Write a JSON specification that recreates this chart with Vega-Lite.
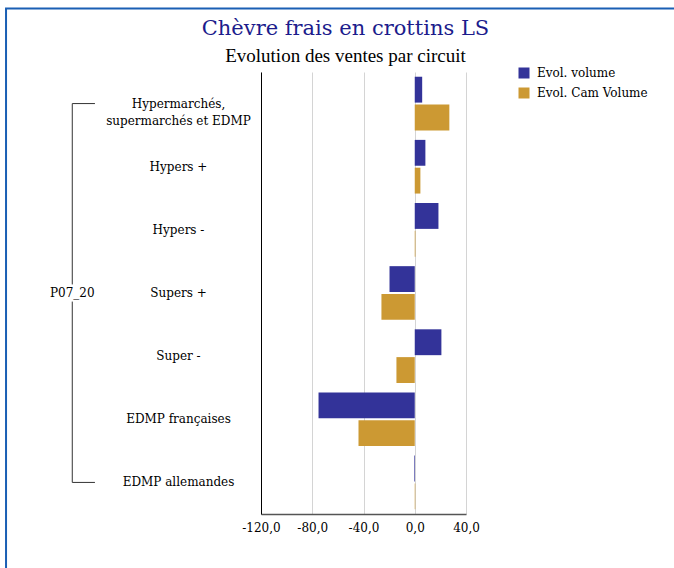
{
  "$schema": "https://vega.github.io/schema/vega-lite/v6.json",
  "autosize": "none",
  "width": 205,
  "height": 442,
  "padding": {"left": 261, "top": 72, "right": 208, "bottom": 54},
  "background": "white",
  "config": {"view": {"stroke": null}, "font": "DejaVu Serif"},
  "title": {
    "text": "Chèvre frais en crottins LS",
    "subtitle": "Evolution des ventes par circuit",
    "anchor": "middle",
    "frame": "group",
    "dx": -18,
    "font": "DejaVu Serif",
    "fontSize": 21,
    "fontWeight": "normal",
    "color": "#1c1c8c",
    "subtitleFont": "Liberation Serif",
    "subtitleFontSize": 19,
    "subtitleColor": "#000000",
    "subtitlePadding": 8,
    "offset": -59
  },
  "datasets": {
    "ventes": [
      {"circuit": "Hypermarchés, supermarchés et EDMP", "serie": "Evol. volume", "value": 5.8},
      {"circuit": "Hypermarchés, supermarchés et EDMP", "serie": "Evol. Cam Volume", "value": 27.0},
      {"circuit": "Hypers +", "serie": "Evol. volume", "value": 8.3},
      {"circuit": "Hypers +", "serie": "Evol. Cam Volume", "value": 4.4},
      {"circuit": "Hypers -", "serie": "Evol. volume", "value": 18.5},
      {"circuit": "Hypers -", "serie": "Evol. Cam Volume", "value": 0.5},
      {"circuit": "Supers +", "serie": "Evol. volume", "value": -19.7},
      {"circuit": "Supers +", "serie": "Evol. Cam Volume", "value": -26.0},
      {"circuit": "Super -", "serie": "Evol. volume", "value": 20.8},
      {"circuit": "Super -", "serie": "Evol. Cam Volume", "value": -14.3},
      {"circuit": "EDMP françaises", "serie": "Evol. volume", "value": -75.1},
      {"circuit": "EDMP françaises", "serie": "Evol. Cam Volume", "value": -43.9},
      {"circuit": "EDMP allemandes", "serie": "Evol. volume", "value": -0.5},
      {"circuit": "EDMP allemandes", "serie": "Evol. Cam Volume", "value": 0.4}
    ]
  },
  "layer": [
    {
      "layer": [
        {
          "data": {"name": "ventes"},
          "mark": {"type": "bar"},
          "encoding": {
            "y": {
              "field": "circuit",
              "type": "nominal",
              "scale": {
                "domain": ["Hypermarchés, supermarchés et EDMP", "Hypers +", "Hypers -", "Supers +", "Super -", "EDMP françaises", "EDMP allemandes"],
                "paddingInner": 0.15,
                "paddingOuter": 0.075
              },
              "axis": {
                "title": null,
                "ticks": false,
                "labelPadding": 83,
                "labelAlign": "center",
                "labelBaseline": "middle",
                "labelFont": "DejaVu Serif",
                "labelFontSize": 12,
                "labelColor": "#000000",
                "labelLineHeight": 17,
                "labelLimit": 250,
                "domainColor": "#000000",
                "domainWidth": 1,
                "grid": false,
                "labelExpr": "datum.label == 'Hypermarchés, supermarchés et EDMP' ? ['Hypermarchés,', 'supermarchés et EDMP'] : datum.label"
              }
            },
            "x": {
              "field": "value",
              "type": "quantitative",
              "scale": {"domain": [-120, 40], "nice": false, "zero": false},
              "axis": {
                "title": null,
                "values": [-120, -80, -40, 0, 40],
                "labelExpr": "replace(replace(format(datum.value, '.1f'), '.', ','), '−', '-')",
                "ticks": false,
                "labelPadding": 8,
                "labelFont": "DejaVu Serif",
                "labelFontSize": 12,
                "labelColor": "#000000",
                "labelFlush": false,
                "grid": true,
                "gridColor": "#d4d4d4",
                "gridWidth": 1,
                "domainColor": "#555555",
                "domainWidth": 1.5
              }
            },
            "yOffset": {
              "field": "serie",
              "type": "nominal",
              "sort": ["Evol. volume", "Evol. Cam Volume"],
              "scale": {"paddingInner": 0.07}
            },
            "color": {
              "field": "serie",
              "type": "nominal",
              "sort": ["Evol. volume", "Evol. Cam Volume"],
              "scale": {"domain": ["Evol. volume", "Evol. Cam Volume"], "range": ["#333399", "#CC9933"]},
              "legend": {
                "orient": "none",
                "legendX": 257,
                "legendY": -5,
                "title": null,
                "symbolType": "square",
                "symbolSize": 121,
                "symbolStrokeWidth": 0,
                "labelFont": "DejaVu Serif",
                "labelFontSize": 12,
                "labelColor": "#000000",
                "labelOffset": 7,
                "rowPadding": 8,
                "padding": 0
              }
            }
          }
        },
        {
          "data": {"values": [{}]},
          "mark": {"type": "rule", "color": "#333333", "strokeWidth": 1},
          "encoding": {
            "x": {"datum": -267.3, "type": "quantitative", "scale": {"domain": [-120, 40], "nice": false, "zero": false}},
            "y": {"datum": "Hypermarchés, supermarchés et EDMP", "type": "nominal", "scale": {"domain": ["Hypermarchés, supermarchés et EDMP", "Hypers +", "Hypers -", "Supers +", "Super -", "EDMP françaises", "EDMP allemandes"]}},
            "y2": {"datum": "EDMP allemandes"}
          }
        },
        {
          "data": {"values": [{"circuit": "Hypermarchés, supermarchés et EDMP"}, {"circuit": "EDMP allemandes"}]},
          "mark": {"type": "rule", "color": "#333333", "strokeWidth": 1},
          "encoding": {
            "x": {"datum": -267.3, "type": "quantitative", "scale": {"domain": [-120, 40], "nice": false, "zero": false}},
            "x2": {"datum": -249.6},
            "y": {"field": "circuit", "type": "nominal", "scale": {"domain": ["Hypermarchés, supermarchés et EDMP", "Hypers +", "Hypers -", "Supers +", "Super -", "EDMP françaises", "EDMP allemandes"]}}
          }
        },
        {
          "data": {"values": [{}]},
          "mark": {"type": "bar", "color": "white", "height": {"band": 0.32}},
          "encoding": {
            "x": {"datum": -272, "type": "quantitative", "scale": {"domain": [-120, 40], "nice": false, "zero": false}},
            "x2": {"datum": -262},
            "y": {"datum": "Supers +", "type": "nominal", "scale": {"domain": ["Hypermarchés, supermarchés et EDMP", "Hypers +", "Hypers -", "Supers +", "Super -", "EDMP françaises", "EDMP allemandes"]}}
          }
        },
        {
          "data": {"values": [{"groupe": "P07_20"}]},
          "mark": {"type": "text", "font": "DejaVu Serif", "fontSize": 12, "color": "#000000", "align": "center", "baseline": "middle"},
          "encoding": {
            "text": {"field": "groupe"},
            "x": {"datum": -267.3, "type": "quantitative", "scale": {"domain": [-120, 40], "nice": false, "zero": false}},
            "y": {"datum": "Supers +", "type": "nominal", "scale": {"domain": ["Hypermarchés, supermarchés et EDMP", "Hypers +", "Hypers -", "Supers +", "Super -", "EDMP françaises", "EDMP allemandes"]}}
          }
        }
      ]
    },
    {
      "data": {"values": [{}]},
      "mark": {"type": "rect", "fill": "transparent", "stroke": "#1a5fb4", "strokeWidth": 2},
      "encoding": {
        "x": {"datum": -319.0, "type": "quantitative", "scale": {"domain": [-120, 40], "nice": false, "zero": false}},
        "x2": {"datum": 215},
        "y": {"datum": 1.1437, "type": "quantitative", "scale": {"domain": [0, 1], "nice": false, "zero": false}, "axis": null},
        "y2": {"datum": -0.2}
      }
    }
  ],
  "resolve": {"scale": {"y": "independent"}}
}
